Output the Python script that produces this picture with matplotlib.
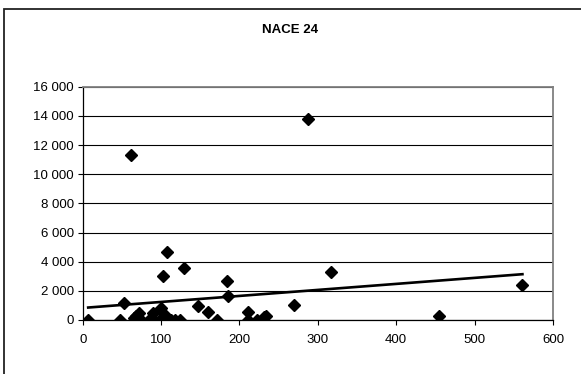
import numpy as np
import matplotlib
matplotlib.use('Agg')
import matplotlib.pyplot as plt
from matplotlib.patches import Rectangle
from matplotlib.ticker import FuncFormatter

plt.rcParams['font.family'] = ['Liberation Sans', 'DejaVu Sans']

# values
x_vals = [7, 47, 53, 62, 65, 68, 70, 72, 75, 85,
          90, 91, 100, 102, 103, 104, 105, 107, 113, 118,
          124, 129, 147, 160, 171, 184, 186, 211, 211, 222,
          231, 234, 270, 288, 317, 454, 561]
y_vals = [0, 0, 1150, 11350, 150, 300, 0, 450, 0, 0,
          500, 0, 800, 3000, 200, 400, 0, 4650, 0, 0,
          0, 3600, 950, 580, 0, 2700, 1620, 580, 0, 0,
          220, 250, 1050, 13780, 3300, 250, 2400]
x_ticks = [0, 100, 200, 300, 400, 500, 600]
y_ticks = [0, 2000, 4000, 6000, 8000, 10000, 12000, 14000, 16000]
title = "NACE 24"

fig = plt.figure(figsize=(5.81, 3.74), dpi=100)
ax = fig.add_axes([82.7 / 581, 54 / 374, 470.3 / 581, 233.3 / 374])

# outer chart frame (cut by the image at right and bottom)
fig.patches.append(Rectangle((4 / 581, -0.1), 1.2, (374 - 9) / 374 + 0.1,
                             transform=fig.transFigure, fill=False,
                             edgecolor='#222222', linewidth=1.3))

ax.plot(x_vals, y_vals, linestyle='none', marker='D', markersize=6,
        color='black', zorder=3)

# linear trend line over the data range
k, b = np.polyfit(x_vals, y_vals, 1)
tx = np.array([min(x_vals), max(x_vals)])
ax.plot(tx, k * tx + b, color='black', linewidth=1.9, zorder=4)

ax.set_xlim(0, 600)
ax.set_ylim(0, 16000)
ax.set_xticks(x_ticks)
ax.set_yticks(y_ticks)
ax.yaxis.set_major_formatter(FuncFormatter(lambda v, p: f"{int(v):,}".replace(",", " ")))
ax.grid(axis='y', color='black', linewidth=0.8)
ax.set_axisbelow(True)

for s in ['top', 'right']:
    ax.spines[s].set_color('#808080')
    ax.spines[s].set_linewidth(1.3)
for s in ['left', 'bottom']:
    ax.spines[s].set_color('black')
    ax.spines[s].set_linewidth(0.9)

ax.tick_params(direction='out', length=3.5, width=0.8, labelsize=9.5, colors='black')
ax.tick_params(axis='x', pad=6.5)
ax.tick_params(axis='y', pad=3)

fig.text(290 / 581, 1 - 30 / 374, title, ha='center', va='center',
         fontsize=9.5, fontweight='bold')

fig.savefig('out.png', dpi=100)
